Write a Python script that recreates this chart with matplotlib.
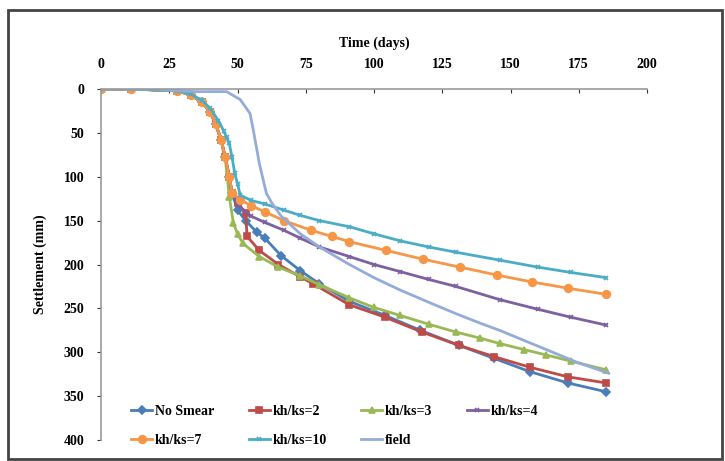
import matplotlib
matplotlib.use("Agg")
from matplotlib import pyplot as plt
from matplotlib.patches import Rectangle

# days / settlement (mm)
t_nosmear = [0, 11, 28, 33, 37, 40, 42, 44, 45.5, 47, 48, 50, 53, 57, 60, 66, 73, 80, 91, 104, 117, 131, 144, 157, 171, 185]
s_nosmear = [0, 0, 2, 7, 15, 26, 40, 58, 78, 100, 118, 138, 150, 163, 170, 190, 207, 222, 242, 258, 275, 292, 307, 322, 335, 345]

t_k2 = [0, 11, 28, 33, 37, 40, 42, 44, 45.5, 47, 48, 50, 53, 53.5, 58, 65, 73, 77.7, 91, 104, 117.6, 131, 144, 157, 171, 185]
s_k2 = [0, 0, 2, 7, 15, 26, 40, 58, 78, 100, 118, 130, 141, 168, 184, 200, 214, 222, 246, 260, 277, 292, 305, 317, 328, 335]

t_k3 = [0, 11, 28, 33, 37, 40, 42, 44, 45.5, 47, 48.5, 50, 52, 58, 65, 73, 80, 91, 100, 109.5, 120, 130, 139, 146, 155, 163, 172, 185]
s_k3 = [0, 0, 2, 7, 15, 26, 40, 58, 78, 123, 153, 165, 176, 191, 203, 213, 223, 238, 249, 258, 268, 277, 284, 290, 297, 303, 310, 320]

t_k4 = [0, 11, 28, 33, 37, 40, 42, 44, 45.5, 47, 48, 50, 55, 60, 67, 73, 80, 91, 100, 109.5, 120, 130, 146, 160, 172, 185]
s_k4 = [0, 0, 2, 7, 15, 26, 40, 58, 78, 100, 120, 132, 145, 152, 161, 170, 180, 191, 200, 208, 217, 225, 240, 251, 260, 269]

t_k7 = [0, 11, 28, 33, 37, 40, 42, 44, 45.5, 47, 48, 51, 55, 60, 67, 77, 84.5, 91, 104.5, 118, 131.5, 145, 158, 171, 185]
s_k7 = [0, 0, 2, 7, 15, 26, 40, 58, 78, 100, 118, 126, 133, 140, 150, 161, 168, 174, 184, 194, 203, 212, 220, 227, 234]

t_k10 = [0, 11, 28, 33, 37, 40, 43, 45, 46, 47, 48, 49, 50, 51, 55, 60, 67, 73, 80, 91, 100, 109.5, 120, 130, 146, 160, 172, 185]
s_k10 = [0, 0, 2, 6, 13, 22, 36, 48, 55, 62, 78, 96, 108, 121, 127, 131, 138, 144, 150, 157, 165, 173, 180, 186, 195, 203, 209, 215]

t_field = [0, 11, 20, 28, 35, 40, 46, 51, 54.6, 55.8, 58, 60.6, 62.6, 66, 73, 80, 91, 100, 109.5, 120, 130, 139, 146, 160, 174, 186]
s_field = [0, 0, 0, 2, 3, 3, 3, 12, 28, 47, 85, 119, 130, 145, 165, 180, 200, 215, 229, 243, 256, 267, 275, 293, 311, 324]

series = [
    ("No Smear", t_nosmear, s_nosmear, "#4A7EBB", "D", 4),
    ("kh/ks=2", t_k2, s_k2, "#BE4B48", "s", 5),
    ("kh/ks=3", t_k3, s_k3, "#98B954", "^", 5),
    ("kh/ks=4", t_k4, s_k4, "#7D60A0", "x", 3),
    ("kh/ks=7", t_k7, s_k7, "#F79646", "o", 5.5),
    ("kh/ks=10", t_k10, s_k10, "#4BACC6", "x", 3),
    ("field", t_field, s_field, "#93ACD8", None, 0),
]

plt.rcParams["font.family"] = ["Liberation Serif", "DejaVu Serif"]
plt.rcParams["font.weight"] = "bold"

fig = plt.figure(figsize=(7.25, 4.61), dpi=100)
ax = fig.add_axes([101 / 725, 1 - 440 / 461, 546 / 725, 351 / 461])

handles = []
for name, t, s, col, mk, ms in series:
    ln, = ax.plot(t, s, color=col, lw=2, marker=mk, markersize=ms, mew=1.2,
                  markeredgecolor=col, label=name)
    handles.append(ln)

ax.set_xlim(0, 200)
ax.set_ylim(400, 0)
ax.set_xticks(range(0, 201, 25))
ax.set_yticks(range(0, 401, 50))
ax.xaxis.tick_top()
ax.xaxis.set_label_position("top")
ax.set_xlabel("Time (days)", fontsize=10, fontweight="bold", labelpad=8)
ax.set_ylabel("Settlement (mm)", fontsize=10, fontweight="bold", labelpad=12)
ax.tick_params(axis="x", direction="in", length=3, pad=13, labelsize=10, colors="#333333")
ax.tick_params(axis="y", direction="out", length=3, pad=9, labelsize=10, colors="#333333")
for lab in ax.get_xticklabels() + ax.get_yticklabels():
    lab.set_fontweight("bold")
    lab.set_color("black")
for side in ["right", "bottom"]:
    ax.spines[side].set_visible(False)
for side in ["top", "left"]:
    ax.spines[side].set_color("#999999")
    ax.spines[side].set_linewidth(1.2)

# legend fills row by row in the reference
order = [0, 4, 1, 5, 2, 6, 3]
leg = ax.legend([handles[i] for i in order], [series[i][0] for i in order],
                ncol=4, loc="upper left", bbox_to_anchor=(0.045, 0.115),
                frameon=False, fontsize=10, handlelength=1.5, handletextpad=0.2,
                columnspacing=2.5, labelspacing=1.15, borderaxespad=0)
for txt in leg.get_texts():
    txt.set_fontweight("bold")

fig.patches.append(Rectangle((8 / 725, 2 / 461), 714 / 725, 449 / 461,
                             transform=fig.transFigure, fill=False,
                             edgecolor="#444444", lw=2))

fig.savefig("out.png", dpi=100)
